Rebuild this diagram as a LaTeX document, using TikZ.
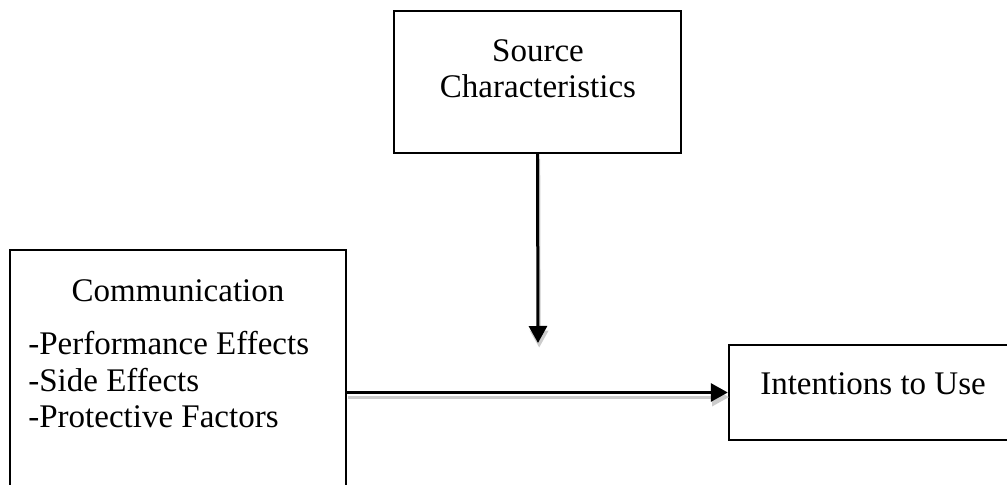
\documentclass[tikz,border=0pt]{standalone}
\usepackage{fontspec}
\setmainfont{Liberation Serif}
\usepackage{tikz}
\usetikzlibrary{arrows.meta}

\begin{document}
\begin{tikzpicture}[x=0.5pt,y=-0.5pt,
  box/.style={draw, line width=1.2pt, inner sep=0pt},
  txt/.style={inner sep=0pt, font=\fontsize{16.5}{18.25}\selectfont},
  arr/.style={line width=1.5pt, -{Triangle[length=8.5pt,width=9pt]},
    preaction={draw=black!20, line width=1.5pt, -{Triangle[length=8.5pt,width=9pt]},
      transform canvas={shift={(0.6pt,-2.3pt)}}}}]
\useasboundingbox (0,0) rectangle (1007,485);
\clip (0,0) rectangle (1007,485);
\fill[white] (0,0) rectangle (1007,485);

\node[box, minimum width=143.5pt, minimum height=71pt] (src) at (537.5,82) {};
\node[box, minimum width=168pt, minimum height=125pt] (comm) at (178,375) {};
\node[box, minimum width=144pt, minimum height=47.5pt] (intent) at (873,392.5) {};

\node[txt, anchor=base] (srca) at (538,62) {Source};
\node[txt, anchor=base] (srcb) at (538,98) {Characteristics};
\node[txt, anchor=base] (commt) at (178,302) {Communication};
\node[txt, anchor=base west] (perf) at (28,355) {-Performance Effects};
\node[txt, anchor=base west] (side) at (28,392) {-Side Effects};
\node[txt, anchor=base west] (prot) at (28,428) {-Protective Factors};
\node[txt, anchor=base] (intentt) at (873,395) {Intentions to Use};

\coordinate (vtip) at (538,343);
\draw[arr] (src.south) -- (vtip);
\draw[arr] (comm.east |- intent.west) -- (intent.west);
\end{tikzpicture}
\end{document}
